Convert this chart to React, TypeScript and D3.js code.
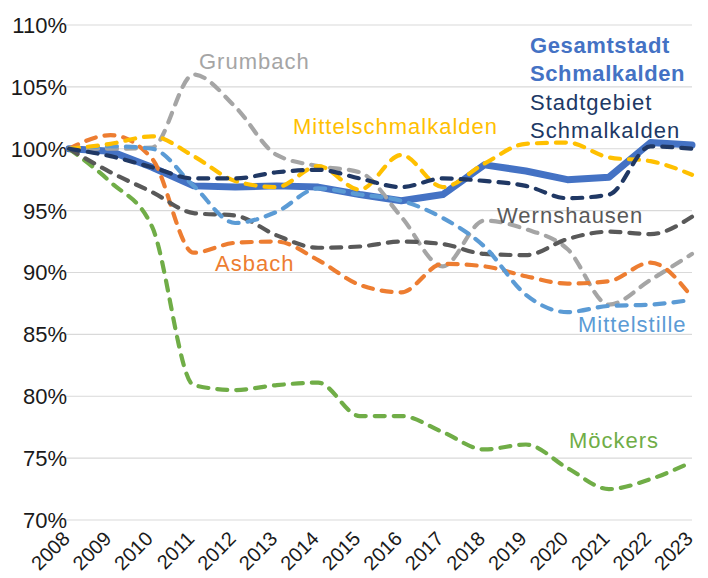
import React from "react";
import * as d3 from "d3";

const years = [2008, 2009, 2010, 2011, 2012, 2013, 2014, 2015, 2016, 2017, 2018, 2019, 2020, 2021, 2022, 2023];
const yTicks = [70, 75, 80, 85, 90, 95, 100, 105, 110];

const gesamtstadt = [100, 99.8, 98.5, 97.0, 96.9, 97.0, 96.9, 96.3, 95.8, 96.3, 98.7, 98.2, 97.5, 97.7, 100.5, 100.3];
const stadtgebiet = [100, 99.4, 98.5, 97.6, 97.6, 98.1, 98.3, 97.6, 96.9, 97.6, 97.4, 97.0, 96.0, 96.3, 100.2, 100.0];
const mittelschmalkalden = [100, 100.4, 101.0, 99.4, 97.4, 96.9, 98.6, 96.7, 99.5, 96.9, 98.8, 100.4, 100.5, 99.3, 99.0, 97.9];
const grumbach = [100, 100.0, 100.1, 106.0, 103.4, 99.5, 98.6, 98.1, 94.5, 90.5, 94.2, 93.5, 91.9, 87.4, 89.4, 91.5];
const wernshausen = [100, 98.1, 96.5, 94.8, 94.6, 93.0, 92.0, 92.1, 92.5, 92.3, 91.5, 91.4, 92.7, 93.3, 93.1, 94.5];
const asbach = [100, 101.1, 99.2, 91.6, 92.4, 92.5, 91.0, 89.0, 88.4, 90.7, 90.5, 89.7, 89.1, 89.3, 90.8, 88.0];
const mittelstille = [100, 100.2, 100.0, 97.0, 94.0, 94.9, 96.8, 96.3, 95.8, 94.4, 92.1, 88.2, 86.8, 87.3, 87.4, 87.8];
const moeckers = [100, 97.3, 93.7, 80.9, 80.5, 80.9, 81.1, 78.4, 78.4, 77.1, 75.7, 76.1, 74.2, 72.5, 73.3, 74.7];

const W = 708;
const H = 578;

const x = d3.scalePoint<number>().domain(years).range([69, 692]);
const y = d3.scaleLinear().domain([70, 110]).range([520, 25]);

type Series = { name: string; values: number[]; color: string };

const dashedSeries: Series[] = [
  { name: "Grumbach", values: grumbach, color: "#A5A5A5" },
  { name: "Möckers", values: moeckers, color: "#70AD47" },
  { name: "Asbach", values: asbach, color: "#ED7D31" },
  { name: "Wernshausen", values: wernshausen, color: "#595959" },
  { name: "Mittelstille", values: mittelstille, color: "#5B9BD5" },
  { name: "Mittelschmalkalden", values: mittelschmalkalden, color: "#FFC000" },
  { name: "Stadtgebiet Schmalkalden", values: stadtgebiet, color: "#203864" },
];

const labels = [
  { lines: ["Grumbach"], color: "#A5A5A5", x: 199, y: 69, bold: false },
  { lines: ["Mittelschmalkalden"], color: "#FFC000", x: 293, y: 134, bold: false },
  { lines: ["Gesamtstadt", "Schmalkalden"], color: "#4472C4", x: 530, y: 53, bold: true },
  { lines: ["Stadtgebiet", "Schmalkalden"], color: "#203864", x: 530, y: 110, bold: false },
  { lines: ["Wernshausen"], color: "#595959", x: 497, y: 223, bold: false },
  { lines: ["Asbach"], color: "#ED7D31", x: 215, y: 271, bold: false },
  { lines: ["Mittelstille"], color: "#5B9BD5", x: 578, y: 332, bold: false },
  { lines: ["Möckers"], color: "#70AD47", x: 569, y: 448, bold: false },
];

const FONT = "'Liberation Sans', Arial, Helvetica, sans-serif";

export default function App() {
  const line = d3
    .line<number>()
    .x((_, i) => x(years[i]) as number)
    .y((d) => y(d))
    .curve(d3.curveMonotoneX);
  const straight = d3
    .line<number>()
    .x((_, i) => x(years[i]) as number)
    .y((d) => y(d));

  return (
    <div style={{ position: "absolute", left: 0, top: 0 }}>
      <svg width={W} height={H} style={{ display: "block", background: "#fff" }} fontFamily={FONT}>
        {yTicks.map((t) => (
          <g key={t}>
            <line x1={66} x2={692} y1={y(t)} y2={y(t)} stroke="#D9D9D9" strokeWidth={1.2} />
            <text x={67} y={y(t)} dy="0.36em" textAnchor="end" fontSize={22} fill="#1a1a1a">
              {t}%
            </text>
          </g>
        ))}
        {years.map((yr) => (
          <text
            key={yr}
            transform={`translate(${(x(yr) as number) + 2},540) rotate(-45)`}
            textAnchor="end"
            fontSize={20}
            fill="#1a1a1a"
          >
            {yr}
          </text>
        ))}
        <path
          d={straight(gesamtstadt) || ""}
          fill="none"
          stroke="#4472C4"
          strokeWidth={7}
          strokeLinejoin="round"
          strokeLinecap="round"
        />
        {dashedSeries.map((s) => (
          <path
            key={s.name}
            d={line(s.values) || ""}
            fill="none"
            stroke={s.color}
            strokeWidth={4.2}
            strokeDasharray="10 9"
            strokeLinecap="round"
            strokeLinejoin="round"
          />
        ))}
        {labels.map((l) =>
          l.lines.map((ln, i) => (
            <text
              key={l.color + ln + i}
              x={l.x}
              y={l.y + i * 27.5}
              fontSize={22}
              fill={l.color}
              fontWeight={l.bold ? "bold" : "normal"}
              letterSpacing={l.bold ? 0.6 : 1}
            >
              {ln}
            </text>
          ))
        )}
      </svg>
    </div>
  );
}
